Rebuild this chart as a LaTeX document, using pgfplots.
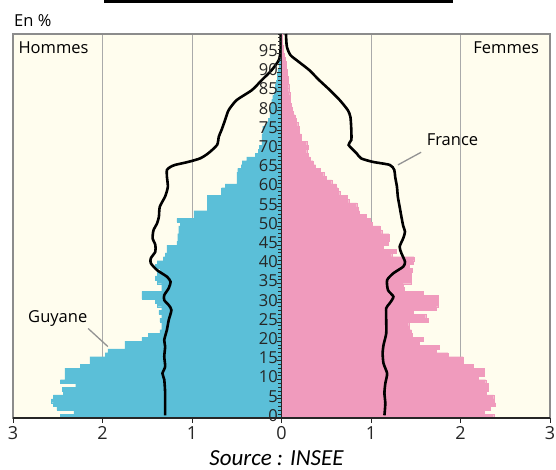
\documentclass[border=0pt]{standalone}
\usepackage{fontspec}
\setmainfont{Open Sans}
\newfontfamily\srcfont{Carlito}
\usepackage{pgfplots}
\pgfplotsset{compat=1.18}
\definecolor{blueC}{RGB}{91,191,216}
\definecolor{pinkC}{RGB}{240,155,189}
\definecolor{creamC}{RGB}{255,253,238}
\definecolor{gridC}{RGB}{170,170,170}
\definecolor{frameC}{RGB}{140,140,140}
\begin{document}
\begin{tikzpicture}[x=1pt,y=1pt]
\useasboundingbox (0,0) rectangle (556,470);
\fill[black] (104,467) rectangle (453,470);
\node[anchor=base west, font=\fontsize{16.5}{18}\selectfont, inner sep=0] at (14,443) {En \%};
\begin{axis}[at={(13pt,52pt)}, anchor=south west, width=537pt, height=384pt, scale only axis,
  xmin=-3, xmax=3, ymin=0, ymax=100,
  axis background/.style={fill=creamC},
  axis line style={draw=frameC, line width=1.3pt},
  xtick={-2,-1,1,2}, xticklabels={}, ytick=\empty,
  xmajorgrids, grid style={gridC, line width=0.9pt},
  major tick length=0pt, clip=true]
\addplot[xbar interval, fill=blueC, draw=blueC, line width=0.1pt] coordinates {
(-2.47,0) (-2.32,1) (-2.51,2) (-2.55,3) (-2.57,4) (-2.55,5) (-2.44,6) (-2.45,7) (-2.30,8) (-2.47,9)
(-2.42,10) (-2.42,11) (-2.42,12) (-2.25,13) (-2.14,14) (-2.14,15) (-1.97,16) (-1.94,17) (-1.75,18) (-1.75,19)
(-1.56,20) (-1.49,21) (-1.36,22) (-1.34,23) (-1.34,24) (-1.36,25) (-1.34,26) (-1.37,27) (-1.34,28) (-1.39,29)
(-1.41,30) (-1.56,31) (-1.56,32) (-1.34,33) (-1.34,34) (-1.39,35) (-1.41,36) (-1.39,37) (-1.36,38) (-1.41,39)
(-1.39,40) (-1.32,41) (-1.30,42) (-1.28,43) (-1.28,44) (-1.17,45) (-1.16,46) (-1.16,47) (-1.15,48) (-1.15,49)
(-1.13,50) (-1.17,51) (-0.98,52) (-0.98,53) (-0.83,54) (-0.83,55) (-0.83,56) (-0.83,57) (-0.67,58) (-0.67,59)
(-0.63,60) (-0.50,61) (-0.50,62) (-0.50,63) (-0.49,64) (-0.45,65) (-0.44,66) (-0.39,67) (-0.29,68) (-0.26,69)
(-0.25,70) (-0.22,71) (-0.22,72) (-0.22,73) (-0.21,74) (-0.21,75) (-0.17,76) (-0.15,77) (-0.13,78) (-0.13,79)
(-0.13,80) (-0.12,81) (-0.11,82) (-0.10,83) (-0.08,84) (-0.07,85) (-0.07,86) (-0.06,87) (-0.05,88) (-0.05,89)
(-0.04,90) (-0.03,91) (-0.03,92) (-0.02,93) (-0.02,94) (-0.01,95) (-0.01,96) (-0.01,97) (-0.01,98) (-0.01,99)
(-0.01,100)};
\addplot[xbar interval, fill=pinkC, draw=pinkC, line width=0.1pt] coordinates {
(2.37,0) (2.26,1) (2.33,2) (2.39,3) (2.38,4) (2.37,5) (2.29,6) (2.31,7) (2.31,8) (2.28,9)
(2.20,10) (2.26,11) (2.26,12) (2.14,13) (2.03,14) (2.03,15) (1.86,16) (1.73,17) (1.76,18) (1.54,19)
(1.58,20) (1.46,21) (1.45,22) (1.43,23) (1.42,24) (1.64,25) (1.61,26) (1.47,27) (1.73,28) (1.75,29)
(1.75,30) (1.75,31) (1.58,32) (1.37,33) (1.36,34) (1.45,35) (1.45,36) (1.45,37) (1.46,38) (1.43,39)
(1.47,40) (1.48,41) (1.23,42) (1.28,43) (1.14,44) (1.19,45) (1.20,46) (1.20,47) (1.12,48) (1.10,49)
(1.01,50) (0.99,51) (0.95,52) (0.87,53) (0.86,54) (0.84,55) (0.75,56) (0.73,57) (0.65,58) (0.63,59)
(0.61,60) (0.56,61) (0.50,62) (0.47,63) (0.43,64) (0.38,65) (0.35,66) (0.32,67) (0.30,68) (0.28,69)
(0.30,70) (0.28,71) (0.22,72) (0.22,73) (0.20,74) (0.20,75) (0.18,76) (0.16,77) (0.15,78) (0.13,79)
(0.12,80) (0.11,81) (0.10,82) (0.10,83) (0.09,84) (0.08,85) (0.08,86) (0.07,87) (0.07,88) (0.06,89)
(0.06,90) (0.05,91) (0.05,92) (0.04,93) (0.03,94) (0.02,95) (0.02,96) (0.01,97) (0.01,98) (0.01,99)
(0.01,100)};
\addplot[black, line width=2.6pt, smooth, tension=0.4] coordinates {
(-1.30,0.7) (-1.30,3) (-1.30,6.5) (-1.31,10) (-1.33,11.6) (-1.30,13.4) (-1.31,16) (-1.30,18.6) (-1.31,20.3)
(-1.28,23) (-1.26,25.5) (-1.23,28.1) (-1.26,29.4) (-1.31,30.7) (-1.31,32) (-1.26,33.8) (-1.24,35.5) (-1.28,36.8)
(-1.39,38.5) (-1.46,40.3) (-1.46,41.6) (-1.41,43.3) (-1.41,45.1) (-1.44,46.8) (-1.43,48.9) (-1.39,50.7)
(-1.37,52.4) (-1.36,55) (-1.30,57.7) (-1.27,60.2) (-1.28,62.8) (-1.28,64.6) (-1.24,65.4) (-1.19,65.9)
(-1.04,66.7) (-0.91,67.6) (-0.82,68.9) (-0.72,71.1) (-0.70,73.3) (-0.67,75) (-0.63,77.6) (-0.59,80.2)
(-0.50,82.8) (-0.33,85.4) (-0.22,88) (-0.11,90.6) (-0.03,93.2) (-0.01,96) (-0.01,100)};
\addplot[black, line width=2.6pt, smooth, tension=0.4] coordinates {
(1.15,0.7) (1.16,3.8) (1.15,6.5) (1.16,9) (1.18,11.6) (1.14,14.2) (1.13,16.8) (1.14,19) (1.17,22)
(1.17,25.5) (1.17,28.6) (1.21,29.9) (1.25,31.6) (1.19,33.3) (1.18,35.9) (1.25,37.7) (1.36,39.4) (1.38,40.7)
(1.34,42.9) (1.32,44.6) (1.36,46.8) (1.38,48.5) (1.36,50) (1.34,52.4) (1.32,55) (1.30,57.6) (1.29,60.2)
(1.27,62.8) (1.26,64.6) (1.21,65.9) (1.02,66.7) (0.89,67.6) (0.84,68.9) (0.75,71.1) (0.78,72.4) (0.78,75)
(0.77,78.4) (0.74,80.2) (0.65,82.8) (0.54,85.4) (0.42,88) (0.31,90.6) (0.19,92.8) (0.10,94.5) (0.06,96.7)
(0.05,100)};
\draw[gray!85, line width=1.3pt] (axis cs:-2.16,23.3) -- (axis cs:-1.94,18.6);
\draw[gray!85, line width=1.3pt] (axis cs:1.30,65.9) -- (axis cs:1.56,69.2);
\node[anchor=base, font=\fontsize{16.5}{18}\selectfont, inner sep=0] at (axis cs:-2.50,24.8) {Guyane};
\node[anchor=base, font=\fontsize{16.5}{18}\selectfont, inner sep=0] at (axis cs:1.91,71.0) {France};
\node[anchor=base west, font=\fontsize{16.5}{18}\selectfont, inner sep=0] at (axis cs:-2.94,94.8) {Hommes};
\node[anchor=base east, font=\fontsize{16.5}{18}\selectfont, inner sep=0] at (axis cs:2.88,94.8) {Femmes};
\end{axis}
\begin{axis}[at={(13pt,52pt)}, anchor=south west, width=537pt, height=384pt, scale only axis,
  xmin=-3, xmax=3, ymin=0, ymax=100,
  axis x line=bottom, axis y line=center,
  hide obscured x ticks=false, hide obscured y ticks=false,
  axis line style={-, black!85, line width=1.1pt},
  xtick={-3,-2,-1,0,1,2,3}, xticklabels={3,2,1,0,1,2,3},
  ytick={0,5,...,95}, minor ytick={0,1,...,100},
  tick align=outside,
  major tick length=5pt, minor tick length=3.5pt,
  tick style={black!85, line width=0.8pt},
  /pgf/number format/assume math mode=true,
  xticklabel style={font=\fontsize{18}{20}\selectfont, text=black!85},
  yticklabel style={font=\fontsize{16.5}{18}\selectfont, text=black!85, anchor=east, inner sep=0pt, xshift=1.5pt, yshift=2.5pt},
]
\addplot[draw=none] coordinates {(0,0)};
\end{axis}
\node[anchor=base, font=\srcfont\itshape\fontsize{23}{25}\selectfont, inner sep=0] at (276.5,4.5) {Source : INSEE};
\end{tikzpicture}
\end{document}
